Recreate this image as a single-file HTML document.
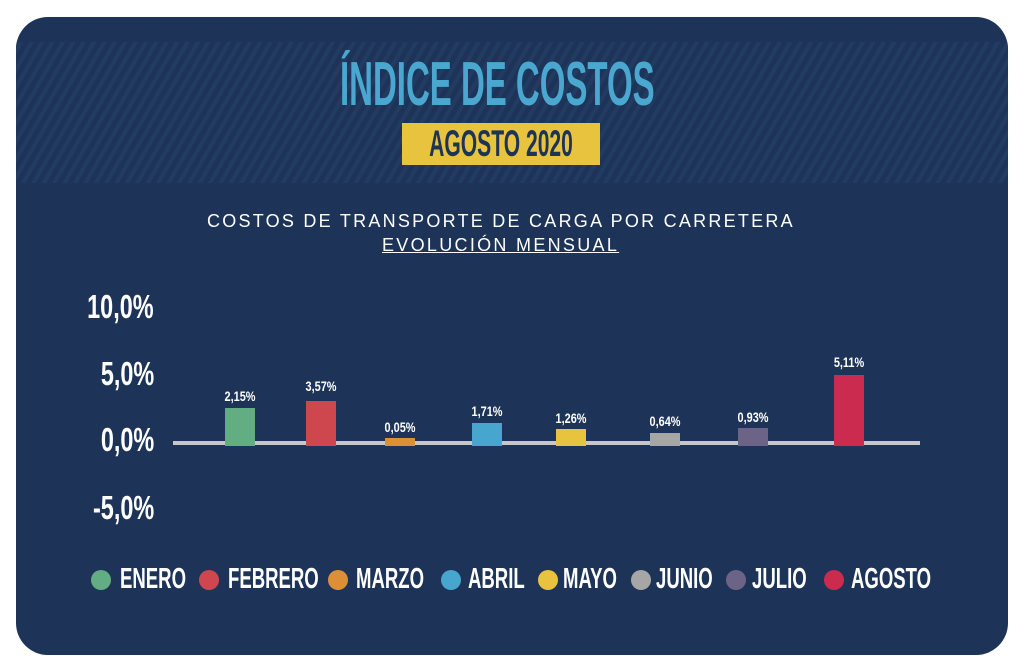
<!DOCTYPE html>
<html><head><meta charset="utf-8"><style>
body{margin:0;width:1024px;height:665px;background:#fff;position:relative;overflow:hidden;font-family:"Liberation Sans",sans-serif}
.card{position:absolute;left:16px;top:17px;width:992px;height:638px;background:#1d3458;border-radius:32px;overflow:hidden}
.stripe{position:absolute;left:0;top:25px;width:992px;height:141px;background:repeating-linear-gradient(-60deg,#1d3458 0 5px,#223b60 5px 9px)}
.a{position:absolute;white-space:nowrap;font-weight:bold}
.y{color:#fff;font-size:33px;right:870px;transform:scaleX(0.71);transform-origin:right}
.bar{position:absolute;width:30px}
.v{color:#fff;font-size:14px;width:60px;text-align:center;transform:scaleX(0.78)}
.dot{position:absolute;width:20px;height:20px;border-radius:50%;top:570px}
.lg{color:#fff;font-size:29px;top:563px;transform:scaleX(0.64);transform-origin:left}
</style></head><body>
<div class="card"><div class="stripe"></div></div>
<div class="a" style="left:340px;top:49px;font-size:62px;color:#4aa8d0;transform:scaleX(0.532);transform-origin:left">ÍNDICE DE COSTOS</div>
<div class="a" style="left:402px;top:123px;width:198px;height:42px;background:#e8c33e"></div>
<div class="a" style="left:301px;top:123px;width:400px;text-align:center;font-size:37px;color:#1d3458;transform:scaleX(0.57)">AGOSTO 2020</div>
<div class="a" style="left:207px;top:211px;font-weight:normal;font-size:18px;color:#fff;letter-spacing:2.25px">COSTOS DE TRANSPORTE DE CARGA POR CARRETERA</div>
<div class="a" style="left:382px;top:235px;font-weight:normal;font-size:18px;color:#fff;letter-spacing:2.3px;text-decoration:underline">EVOLUCIÓN MENSUAL</div>
<div class="a y" style="top:288px">10,0%</div>
<div class="a y" style="top:355px">5,0%</div>
<div class="a y" style="top:421px">0,0%</div>
<div class="a y" style="top:489px">-5,0%</div>
<div class="a" style="left:173px;top:441px;width:747px;height:4px;background:#c8c8c8"></div>
<div class="bar" style="left:225px;top:408px;height:38px;background:#63ad82"></div>
<div class="bar" style="left:306px;top:401px;height:45px;background:#cf474e"></div>
<div class="bar" style="left:385px;top:438px;height:8px;background:#dd8f36"></div>
<div class="bar" style="left:472px;top:423px;height:23px;background:#46a6cd"></div>
<div class="bar" style="left:556px;top:429px;height:17px;background:#e8c33e"></div>
<div class="bar" style="left:650px;top:433px;height:13px;background:#a6a6a6"></div>
<div class="bar" style="left:738px;top:428px;height:18px;background:#6c6487"></div>
<div class="bar" style="left:834px;top:375px;height:71px;background:#cb2b4f"></div>
<div class="a v" style="left:210px;top:388px">2,15%</div>
<div class="a v" style="left:291px;top:378px">3,57%</div>
<div class="a v" style="left:370px;top:419px">0,05%</div>
<div class="a v" style="left:457px;top:403px">1,71%</div>
<div class="a v" style="left:541px;top:410px">1,26%</div>
<div class="a v" style="left:635px;top:413px">0,64%</div>
<div class="a v" style="left:723px;top:409px">0,93%</div>
<div class="a v" style="left:819px;top:354px">5,11%</div>
<div class="dot" style="left:91px;background:#63ad82"></div><div class="a lg" style="left:120px">ENERO</div>
<div class="dot" style="left:199px;background:#cf474e"></div><div class="a lg" style="left:228px">FEBRERO</div>
<div class="dot" style="left:328px;background:#dd8f36"></div><div class="a lg" style="left:356px">MARZO</div>
<div class="dot" style="left:441px;background:#46a6cd"></div><div class="a lg" style="left:468px">ABRIL</div>
<div class="dot" style="left:538px;background:#e8c33e"></div><div class="a lg" style="left:563px">MAYO</div>
<div class="dot" style="left:631px;background:#a6a6a6"></div><div class="a lg" style="left:656px">JUNIO</div>
<div class="dot" style="left:726px;background:#6c6487"></div><div class="a lg" style="left:752px">JULIO</div>
<div class="dot" style="left:824px;background:#cb2b4f"></div><div class="a lg" style="left:851px">AGOSTO</div>
</body></html>
